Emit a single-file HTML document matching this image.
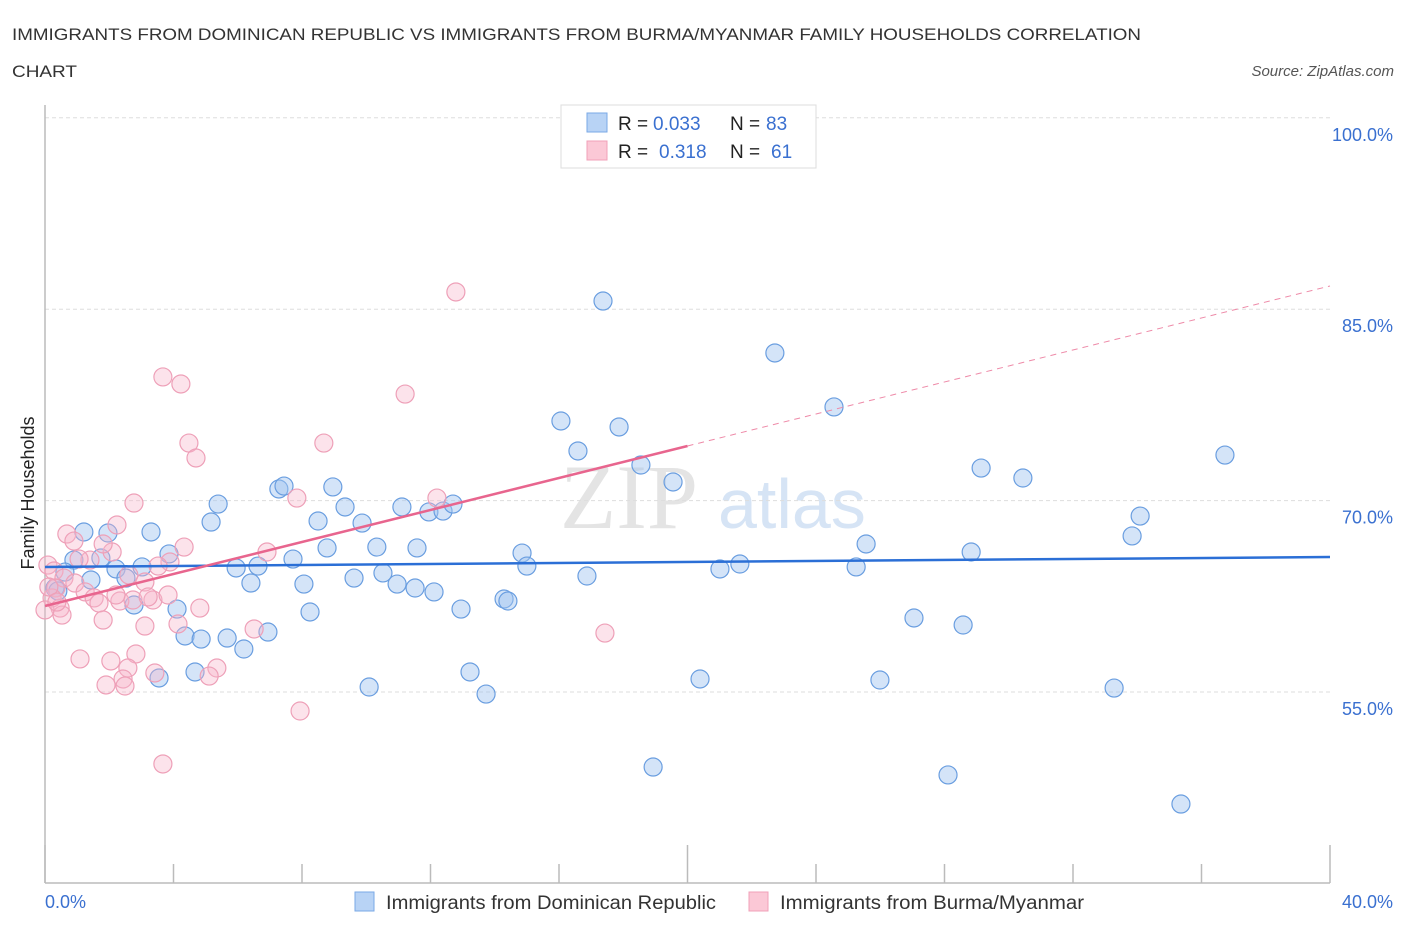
<!DOCTYPE html>
<html><head><meta charset="utf-8"><style>
body{margin:0;background:#fff;font-family:"Liberation Sans",sans-serif;}
svg{display:block}
</style></head><body>
<svg id="chart" width="1406" height="930">
<text x="12" y="40" font-size="17" fill="#333" textLength="1129" lengthAdjust="spacingAndGlyphs">IMMIGRANTS FROM DOMINICAN REPUBLIC VS IMMIGRANTS FROM BURMA/MYANMAR FAMILY HOUSEHOLDS CORRELATION</text>
<text x="12" y="77" font-size="17" fill="#333" textLength="65" lengthAdjust="spacingAndGlyphs">CHART</text>
<text x="1394" y="76" font-size="15" fill="#555" font-style="italic" text-anchor="end">Source: ZipAtlas.com</text>
<text x="560" y="528" font-size="92" fill="#e4e4e4" font-family="Liberation Serif">ZIP</text>
<text x="718" y="528" font-size="70" fill="#d6e4f5">atlas</text>
<g id="grid"></g><g id="axes"></g><g id="pts"></g><g id="lines"></g>
<text transform="translate(34,493) rotate(-90)" font-size="18" fill="#222" text-anchor="middle">Family Households</text>
<text x="45" y="908" font-size="18" fill="#3a70d0">0.0%</text>
<text x="1393" y="908" font-size="18" fill="#3a70d0" text-anchor="end">40.0%</text>
<g>
<rect x="561" y="105" width="255" height="63" fill="#fff" stroke="#ddd"/>
<rect x="587" y="113" width="20" height="19" fill="#b8d3f5" stroke="#7aa8e6"/>
<rect x="587" y="141" width="20" height="19" fill="#fbc8d6" stroke="#f0a0b8"/>
<text y="130" font-size="19" fill="#222"><tspan x="618">R =</tspan><tspan x="653" fill="#3a70d0">0.033</tspan><tspan x="730">N =</tspan><tspan x="766" fill="#3a70d0">83</tspan></text>
<text y="158" font-size="19" fill="#222"><tspan x="618">R =</tspan><tspan x="659" fill="#3a70d0">0.318</tspan><tspan x="730">N =</tspan><tspan x="771" fill="#3a70d0">61</tspan></text>
</g>
<g>
<rect x="355" y="892" width="19" height="19" fill="#b8d3f5" stroke="#7aa8e6"/>
<text x="386" y="909" font-size="19" fill="#333" textLength="330" lengthAdjust="spacingAndGlyphs">Immigrants from Dominican Republic</text></g>
<g>
<rect x="749" y="892" width="19" height="19" fill="#fbc8d6" stroke="#f0a0b8"/>
<text x="780" y="909" font-size="19" fill="#333" textLength="304" lengthAdjust="spacingAndGlyphs">Immigrants from Burma/Myanmar</text></g>
</svg>
<script>
const yTicks=[55,70,85,100];
const yTickLabels=["55.0%","70.0%","85.0%","100.0%"];
const xTicks=[0,4,8,12,16,20,24,28,32,36,40];
const blueX=[17.37,22.72,24.56,16.06,17.87,16.59,18.55,19.55,29.14,30.44,36.73,34.09,33.84,7.28,7.44,8.96,5.39,9.34,11.11,11.95,12.39,12.70,8.50,9.87,5.17,1.21,3.30,1.96,8.78,10.33,11.58,7.72,14.85,15.00,3.86,1.74,0.90,0.62,2.21,3.02,2.52,5.95,6.63,8.06,6.41,9.62,10.52,10.96,11.52,12.11,1.43,0.31,0.40,2.77,4.11,8.25,12.95,14.29,14.41,16.87,21.01,21.63,25.56,25.25,28.83,4.36,4.86,5.67,6.19,6.94,4.67,3.55,10.09,13.23,13.73,20.39,25.99,27.05,28.58,33.28,18.93,28.11,35.36];
const blueY=[85.64,81.57,77.34,76.24,75.77,73.89,72.79,71.46,72.55,71.77,73.57,68.79,67.23,70.91,71.14,71.07,69.73,69.50,69.50,69.11,69.18,69.73,68.40,68.24,68.32,67.54,67.54,67.46,66.29,66.36,66.29,65.42,65.89,64.87,65.82,65.50,65.34,64.40,64.64,64.80,63.93,64.72,64.87,63.46,63.54,63.93,64.33,63.46,63.15,62.84,63.78,63.15,62.92,61.82,61.50,61.27,61.50,62.29,62.13,64.09,64.64,65.03,66.60,64.80,65.97,59.39,59.15,59.23,58.37,59.70,56.57,56.10,55.39,56.57,54.84,56.02,55.94,60.80,60.25,55.31,49.12,48.50,46.22];
const pinkX=[12.79,3.67,4.23,11.21,4.48,4.70,8.68,7.84,12.20,2.77,2.24,0.68,0.90,4.33,2.09,1.40,1.06,1.81,6.91,3.89,0.09,0.28,3.52,2.61,3.11,0.59,0.93,0.34,0.22,0.47,0.53,1.25,1.53,1.68,2.33,2.74,3.36,3.83,3.21,1.81,3.11,4.14,4.82,6.51,2.83,2.05,1.09,2.58,3.42,2.43,1.90,2.49,5.35,5.11,7.94,3.67,17.43,2.21,0.0,0.12,0.37];
const pinkY=[86.35,79.69,79.14,78.35,74.51,73.34,74.51,70.20,70.20,69.81,68.09,67.38,66.83,66.36,65.97,65.34,65.42,66.60,65.97,65.19,64.95,64.48,64.87,64.17,63.62,63.93,63.54,63.15,62.37,61.58,61.03,62.84,62.37,61.97,62.13,62.21,62.21,62.60,62.45,60.64,60.17,60.33,61.58,59.94,57.98,57.43,57.59,56.88,56.49,56.02,55.55,55.47,56.88,56.25,53.51,49.36,59.62,62.60,61.43,63.23,62.05];
const blueTrend=[64.80,0.0195];
const pinkTrend=[61.74,0.627];
const pinkSolidEnd=20;
const NS="http://www.w3.org/2000/svg";
const sx=v=>45+v*32.125;
const sy=v=>692-(v-55)*12.76;
function mk(tag,attrs,parent){const e=document.createElementNS(NS,tag);for(const k in attrs)e.setAttribute(k,attrs[k]);parent.appendChild(e);return e;}
const grid=document.getElementById('grid'),axes=document.getElementById('axes'),pts=document.getElementById('pts'),lines=document.getElementById('lines');
yTicks.forEach((t,i)=>{
 const g=mk('line',{x1:45,x2:1330,y1:sy(t),y2:sy(t),stroke:'#ddd','stroke-dasharray':'4,3'},grid);
 
 
 const l=mk('text',{x:1393,y:sy(t)+23,'font-size':18,fill:'#3a70d0','text-anchor':'end'},grid);
 l.textContent=yTickLabels[i];
 
 
});
const ya=mk('line',{x1:45,x2:45,y1:105,y2:883,stroke:'#bbb','stroke-width':1.5},axes);


const xa=mk('line',{x1:45,x2:1330,y1:883,y2:883,stroke:'#bbb','stroke-width':1.5},axes);


xTicks.forEach(t=>{
 const major=(t%20===0);
 const tk=mk('line',{x1:sx(t),x2:sx(t),y1:major?845:864,y2:883,stroke:'#bbb','stroke-width':1.5},axes);
 
 
});
blueX.forEach((x,i)=>{
 const c=mk('circle',{cx:sx(x),cy:sy(blueY[i]),r:9,fill:'rgba(160,196,240,0.45)',stroke:'#6a9ee0','stroke-width':1.2},pts);
 
 
});
pinkX.forEach((x,i)=>{
 const c=mk('circle',{cx:sx(x),cy:sy(pinkY[i]),r:9,fill:'rgba(247,182,202,0.38)',stroke:'#eea0b8','stroke-width':1.2},pts);
 
 
});
const bl=mk('line',{x1:sx(0),y1:sy(blueTrend[0]),x2:sx(40),y2:sy(blueTrend[0]+blueTrend[1]*40),stroke:'#2b6fd6','stroke-width':2.5},lines);


const pl=mk('line',{x1:sx(0),y1:sy(pinkTrend[0]),x2:sx(pinkSolidEnd),y2:sy(pinkTrend[0]+pinkTrend[1]*pinkSolidEnd),stroke:'#e8658e','stroke-width':2.5},lines);


const pd=mk('line',{x1:sx(pinkSolidEnd),y1:sy(pinkTrend[0]+pinkTrend[1]*pinkSolidEnd),x2:sx(40),y2:sy(pinkTrend[0]+pinkTrend[1]*40),stroke:'#ee8aa8','stroke-width':1,'stroke-dasharray':'6,5'},lines);


</script>
</body></html>
